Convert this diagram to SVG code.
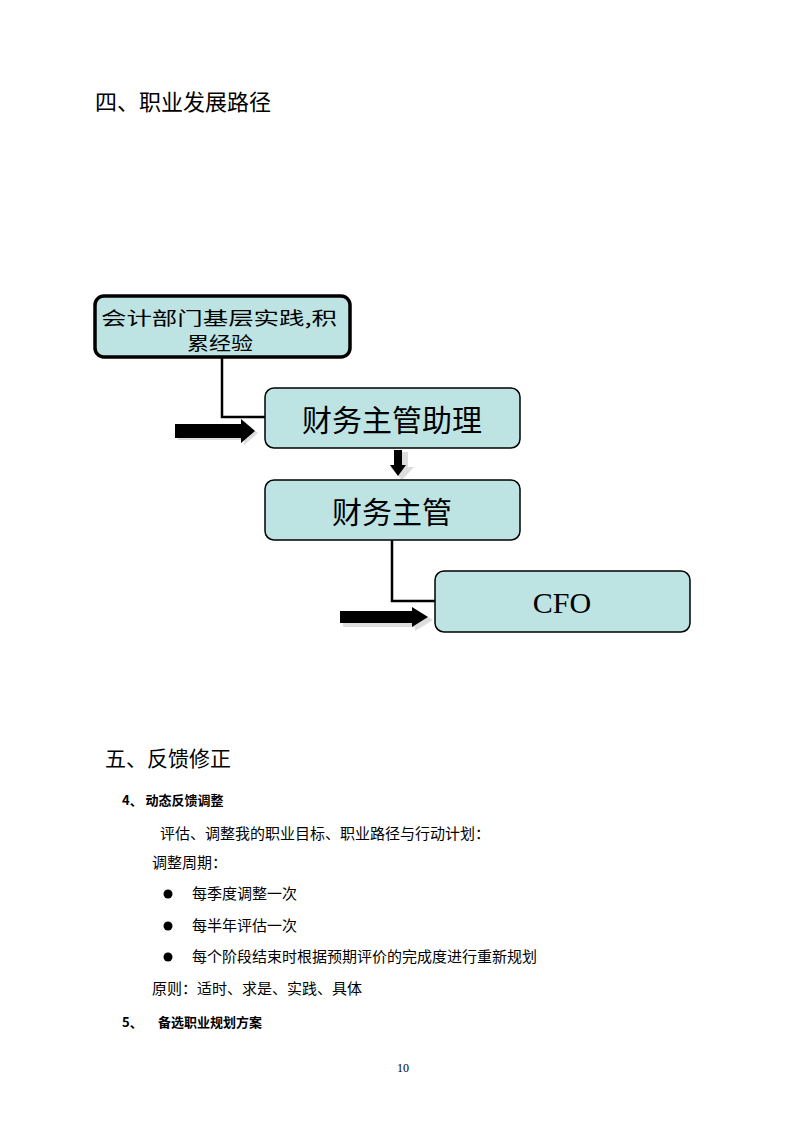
<svg xmlns="http://www.w3.org/2000/svg" width="800" height="1132" viewBox="0 0 800 1132">
<style>
.b{fill:#bde3e3;stroke:#000;stroke-width:1.5}
.b1{fill:#bde3e3;stroke:#000;stroke-width:3.5}
.c{font-family:"Noto Sans CJK SC",sans-serif;fill:#000}
.s{font-family:"Liberation Serif","Noto Sans CJK SC",serif;fill:#000}
.l{fill:none;stroke:#000;stroke-width:2.5}
</style>
<rect width="800" height="1132" fill="#fff"/>
<text x="95" y="110" class="c" font-size="22">四、职业发展路径</text>
<g id="connectors">
<polyline class="l" points="222,357 222,417 265,417"/>
<polyline class="l" points="392,540 392,601 435,601"/>
<path d="M178,426 H244 V421 L258,433 L244,445 V440 H178 Z" fill="#ddd"/>
<path d="M175,424 H241 V419 L255,431 L241,443 V438 H175 Z" fill="#000"/>
<path d="M396,452 V467 H390 L402,480 L414,467 H408 V452 Z" fill="#ddd"/>
<path d="M394,450 V465 H390 L398,476 L406,465 H402 V450 Z" fill="#000"/>
<path d="M343,613 H415 V609 L433,620 L415,631 V627 H343 Z" fill="#ddd"/>
<path d="M340,611 H412 V607 L428,617 L412,627 V623 H340 Z" fill="#000"/>
</g>
<g id="n1"><rect class="b1" x="95" y="296" width="255" height="61" rx="9"/>
<text x="101" y="325" class="c" font-size="18" textLength="236" lengthAdjust="spacingAndGlyphs">会计部门基层实践,积</text>
<text x="187" y="350" class="c" font-size="18" textLength="66" lengthAdjust="spacingAndGlyphs">累经验</text></g>
<g id="n2"><rect class="b" x="265" y="388" width="255" height="60" rx="9"/>
<text x="392" y="431" class="c" font-size="30" text-anchor="middle">财务主管助理</text></g>
<g id="n3"><rect class="b" x="265" y="480" width="255" height="60" rx="9"/>
<text x="392" y="523" class="c" font-size="30" text-anchor="middle">财务主管</text></g>
<g id="n4"><rect class="b" x="435" y="571" width="255" height="61" rx="9"/>
<text x="562" y="613" class="s" font-size="30" text-anchor="middle">CFO</text></g>
<text x="105" y="766" class="c" font-size="21">五、反馈修正</text>
<text x="122" y="805" class="c" font-size="13" font-weight="bold">4、 动态反馈调整</text>
<text x="160" y="839" class="c" font-size="15">评估、调整我的职业目标、职业路径与行动计划：</text>
<text x="152" y="868" class="c" font-size="15">调整周期：</text>
<g class="c" font-size="15">
<circle cx="168" cy="894" r="4.5"/><text x="192" y="899">每季度调整一次</text>
<circle cx="168" cy="926" r="4.5"/><text x="192" y="931">每半年评估一次</text>
<circle cx="168" cy="957" r="4.5"/><text x="192" y="962">每个阶段结束时根据预期评价的完成度进行重新规划</text>
</g>
<text x="152" y="994" class="c" font-size="15">原则：适时、求是、实践、具体</text>
<text x="122" y="1027" class="c" font-size="13" font-weight="bold">5、</text>
<text x="158" y="1027" class="c" font-size="13" font-weight="bold">备选职业规划方案</text>
<text x="403" y="1072" class="s" font-size="12" text-anchor="middle">10</text>
</svg>
